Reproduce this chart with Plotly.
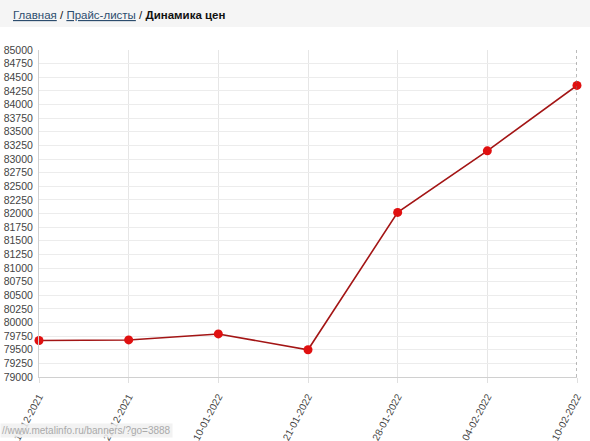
import plotly.graph_objects as go

dates = ["16-12-2021", "22-12-2021", "10-01-2022", "21-01-2022", "28-01-2022", "04-02-2022", "10-02-2022"]
prices = [79670, 79680, 79790, 79500, 82020, 83150, 84350]
y_ticks = list(range(79000, 85001, 250))

L, R, T, B = 39, 13, 50, 64
PW, PH = 590 - L - R, 441 - T - B

fig = go.Figure()
fig.add_trace(go.Scatter(
    x=list(range(len(dates))), y=prices, mode="lines+markers",
    line=dict(color="#a31515", width=1.6),
    marker=dict(color="#e01010", size=9),
    hoverinfo="x+y", showlegend=False, cliponaxis=False,
))

fig.update_layout(
    width=590, height=441,
    margin=dict(l=L, r=R, t=T, b=B, autoexpand=False),
    paper_bgcolor="white", plot_bgcolor="white",
    font=dict(family="Arial, Liberation Sans, sans-serif", size=11, color="#444"),
    xaxis=dict(
        range=[0, len(dates) - 1], tickmode="array", automargin=False,
        tickvals=list(range(len(dates))), ticktext=dates,
        tickangle=-62, showgrid=True, gridcolor="#e6e6e6", gridwidth=1,
        showline=True, linecolor="#d0d0d0", zeroline=False,
        ticks="outside", ticklen=5, tickcolor="#e0e0e0", ticklabelstandoff=4,
        tickfont=dict(size=10, color="#444"),
    ),
    yaxis=dict(
        range=[79000, 85000], tickmode="array", tickvals=y_ticks, automargin=False,
        ticktext=[str(v) for v in y_ticks],
        showgrid=True, gridcolor="#ececec", gridwidth=1,
        showline=True, linecolor="#d0d0d0", zeroline=False,
        ticks="", ticklabelstandoff=3, tickfont=dict(size=10.5, color="#444"),
    ),
    shapes=[
        dict(type="rect", xref="paper", yref="paper", x0=-L/PW, x1=1 + R/PW,
             y0=1 + (T - 27)/PH, y1=1 + T/PH, fillcolor="#f5f5f5", line=dict(width=0), layer="below"),
        dict(type="line", xref="x", yref="paper", x0=6, x1=6, y0=0, y1=1,
             line=dict(color="#777", width=1, dash="dot")),
    ],
    annotations=[
        dict(xref="paper", yref="paper", x=-(L - 11)/PW, y=1 + (T - 15)/PH, xanchor="left", yanchor="middle",
             showarrow=False, align="left",
             font=dict(family="Arial, Liberation Sans, sans-serif", size=11.5, color="#111"),
             text="<span style='text-decoration:underline;fill:#2d4d6e'>Главная</span> / "
                  "<span style='text-decoration:underline;fill:#2d4d6e'>Прайс-листы</span> / <b>Динамика цен</b>"),
        dict(xref="paper", yref="paper", x=-L/PW, y=-(431 - (441 - B))/PH, xanchor="left", yanchor="middle",
             showarrow=False, bgcolor="rgba(240,240,240,0.85)",
             font=dict(family="Arial, Liberation Sans, sans-serif", size=10, color="#aaa"),
             text="//www.metalinfo.ru/banners/?go=3888"),
    ],
)

fig.write_html("out.html", config={"displayModeBar": False},
               post_script="document.body.style.margin='0';document.body.style.overflow='hidden';")
